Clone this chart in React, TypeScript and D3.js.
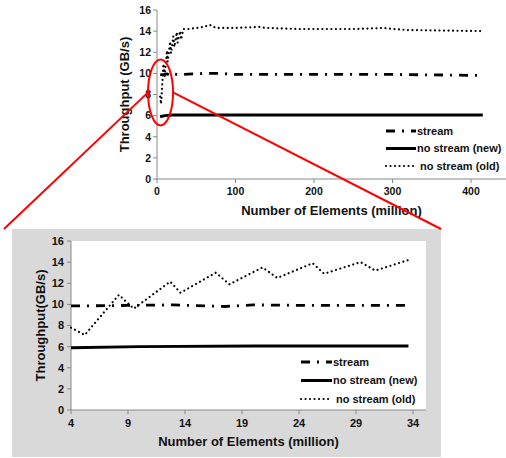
import React from "react";
import * as d3 from "d3";

// ---------- data ----------
const nZoom = [4, 5.2, 8.2, 9.5, 12.7, 13.6, 16.7, 17.9, 20.8, 22.1, 25.2, 26.2, 29.4, 30.7, 33.6];
const oldZoom = [7.8, 7.1, 10.9, 9.6, 12.15, 11.1, 13.0, 11.9, 13.5, 12.5, 13.9, 12.9, 14.0, 13.2, 14.2];
const nOldLarge = [40, 50, 60, 67, 75, 100, 130, 140, 180, 250, 290, 300, 320, 415];
const oldLarge = [14.2, 14.3, 14.4, 14.6, 14.3, 14.3, 14.4, 14.3, 14.2, 14.2, 14.3, 14.2, 14.1, 14.0];

const nStreamZoom = [4, 9, 13, 17.5, 20, 25, 33.6];
const streamZoom = [9.85, 9.9, 9.95, 9.8, 9.95, 9.9, 9.9];
const nStreamLarge = [60, 80, 100, 200, 300, 415];
const streamLarge = [10.0, 10.0, 9.9, 9.9, 9.9, 9.8];

const nNewZoom = [4, 10, 20, 33.6];
const newZoom = [5.9, 6.0, 6.05, 6.05];
const nNewLarge = [100, 200, 300, 415];
const newLarge = [6.05, 6.05, 6.05, 6.05];

const yTicks = [0, 2, 4, 6, 8, 10, 12, 14, 16];
const topXTicks = [0, 100, 200, 300, 400];
const zoomXTicks = [4, 9, 14, 19, 24, 29, 34];
const seriesNames = ["stream", "no stream (new)", "no stream (old)"];

const FONT = "'Liberation Sans', Arial, sans-serif";
const AXIS = "#888888";

const styles = [
  { strokeWidth: 2.8, dash: "9 7 2 7", cap: "butt" },
  { strokeWidth: 3, dash: null, cap: "butt" },
  { strokeWidth: 2.2, dash: "0.01 4.5", cap: "round" },
];

function zip(xs: number[], ys: number[]): [number, number][] {
  return xs.map((x, i) => [x, ys[i]]);
}

type Panel = {
  x: d3.ScaleLinear<number, number>;
  y: d3.ScaleLinear<number, number>;
  xTicks: number[];
  series: [number, number][][];
  tickFont: number;
  xTitle: string;
  yTitle: string;
  xTitleY: number;
  yTitleX: number;
  xLabelY: number;
  yLabelX: number;
  legendX: number;
  legendYs: number[];
  legendLen: number;
  clipId: string;
  xMaxPx: number;
};

function ChartPanel({ p }: { p: Panel }) {
  const [y0, y1] = p.y.range();
  const x0 = p.x.range()[0];
  const line = d3
    .line<[number, number]>()
    .x((d) => p.x(d[0]))
    .y((d) => p.y(d[1]));
  const cx = (x0 + p.xMaxPx) / 2;
  return (
    <g>
      {/* axes */}
      <line x1={x0} x2={x0} y1={y1} y2={y0} stroke={AXIS} strokeWidth={1} />
      <line x1={x0} x2={p.xMaxPx} y1={y0} y2={y0} stroke={AXIS} strokeWidth={1} />
      {yTicks.map((t) => (
        <g key={"y" + t}>
          <line x1={x0 - 4} x2={x0} y1={p.y(t)} y2={p.y(t)} stroke={AXIS} />
          <text
            x={p.yLabelX}
            y={p.y(t)}
            dy="0.36em"
            textAnchor="end"
            fontFamily={FONT}
            fontWeight="bold"
            fontSize={p.tickFont}
            fill="#111"
          >
            {t}
          </text>
        </g>
      ))}
      {p.xTicks.map((t) => (
        <g key={"x" + t}>
          <line x1={p.x(t)} x2={p.x(t)} y1={y0} y2={y0 + 4} stroke={AXIS} />
          <text
            x={p.x(t)}
            y={p.xLabelY}
            textAnchor="middle"
            fontFamily={FONT}
            fontWeight="bold"
            fontSize={p.tickFont}
            fill="#111"
          >
            {t}
          </text>
        </g>
      ))}
      <text
        x={cx}
        y={p.xTitleY}
        textAnchor="middle"
        fontFamily={FONT}
        fontWeight="bold"
        fontSize={13}
        fill="#111"
      >
        {p.xTitle}
      </text>
      <text
        transform={`translate(${p.yTitleX},${(y0 + y1) / 2}) rotate(-90)`}
        textAnchor="middle"
        fontFamily={FONT}
        fontWeight="bold"
        fontSize={13}
        fill="#111"
      >
        {p.yTitle}
      </text>
      {/* series */}
      {p.series.map((s, i) => (
        <path
          key={"s" + i}
          d={line(s) || ""}
          fill="none"
          stroke="#000"
          strokeWidth={styles[i].strokeWidth}
          strokeDasharray={styles[i].dash || undefined}
          strokeLinecap={styles[i].cap as any}
          strokeLinejoin="round"
        />
      ))}
      {/* legend */}
      {seriesNames.map((name, i) => (
        <g key={"l" + i}>
          <line
            x1={p.legendX}
            x2={p.legendX + p.legendLen}
            y1={p.legendYs[i]}
            y2={p.legendYs[i]}
            stroke="#000"
            strokeWidth={styles[i].strokeWidth}
            strokeDasharray={styles[i].dash || undefined}
            strokeLinecap={styles[i].cap as any}
          />
          <text
            x={p.legendX + p.legendLen + (i === 2 ? 4 : 1)}
            y={p.legendYs[i]}
            dy="0.36em"
            fontFamily={FONT}
            fontWeight="bold"
            fontSize={11}
            fill="#111"
          >
            {name}
          </text>
        </g>
      ))}
    </g>
  );
}

export default function App() {
  const W = 506;
  const H = 458;

  const xTop = d3.scaleLinear().domain([0, 450]).range([157, 157 + 450 * 0.785]);
  const yTop = d3.scaleLinear().domain([0, 16]).range([179, 10]);
  const xZoom = d3.scaleLinear().domain([4, 35.14]).range([71, 426]);
  const yZoom = d3.scaleLinear().domain([0, 16]).range([410, 241]);

  const topPanel: Panel = {
    x: xTop,
    y: yTop,
    xTicks: topXTicks,
    series: [
      zip(nStreamZoom.concat(nStreamLarge), streamZoom.concat(streamLarge)),
      zip(nNewZoom.concat(nNewLarge), newZoom.concat(newLarge)),
      zip(nZoom.concat(nOldLarge), oldZoom.concat(oldLarge)),
    ],
    tickFont: 10.5,
    xTitle: "Number of Elements (million)",
    yTitle: "Throughput (GB/s)",
    xTitleY: 215,
    yTitleX: 129,
    xLabelY: 195,
    yLabelX: 151,
    legendX: 386,
    legendYs: [131, 148.5, 166],
    legendLen: 30,
    clipId: "top",
    xMaxPx: 506,
  };

  const zoomPanel: Panel = {
    x: xZoom,
    y: yZoom,
    xTicks: zoomXTicks,
    series: [
      zip(nStreamZoom, streamZoom),
      zip(nNewZoom, newZoom),
      zip(nZoom, oldZoom),
    ],
    tickFont: 11,
    xTitle: "Number of Elements (million)",
    yTitle: "Throughput(GB/s)",
    xTitleY: 446,
    yTitleX: 45,
    xLabelY: 427,
    yLabelX: 64,
    legendX: 301,
    legendYs: [362, 380.5, 399],
    legendLen: 31,
    clipId: "zoom",
    xMaxPx: 426,
  };

  // annotation geometry (ellipse around first points in top chart)
  const ellCx = xTop(4.5);
  const ellCy = yTop(8.2);

  return (
    <svg
      width={W}
      height={H}
      style={{ position: "absolute", left: 0, top: 0, background: "#fff" }}
    >
      <rect x={0} y={0} width={W} height={H} fill="#fff" />
      {/* zoom panel background */}
      <rect x={12} y={229} width={429} height={228} fill="#d9d9d9" />
      <rect x={71} y={241} width={355} height={169} fill="#fff" />
      <ChartPanel p={topPanel} />
      <ChartPanel p={zoomPanel} />
      {/* red annotation */}
      <ellipse
        cx={ellCx}
        cy={ellCy}
        rx={12.5}
        ry={33}
        fill="none"
        stroke="#ff0000"
        strokeWidth={2}
      />
      <line x1={ellCx - 12.5} y1={ellCy} x2={4} y2={229} stroke="#ff0000" strokeWidth={2} />
      <line x1={ellCx + 12.5} y1={ellCy} x2={441} y2={229} stroke="#ff0000" strokeWidth={2} />
    </svg>
  );
}
